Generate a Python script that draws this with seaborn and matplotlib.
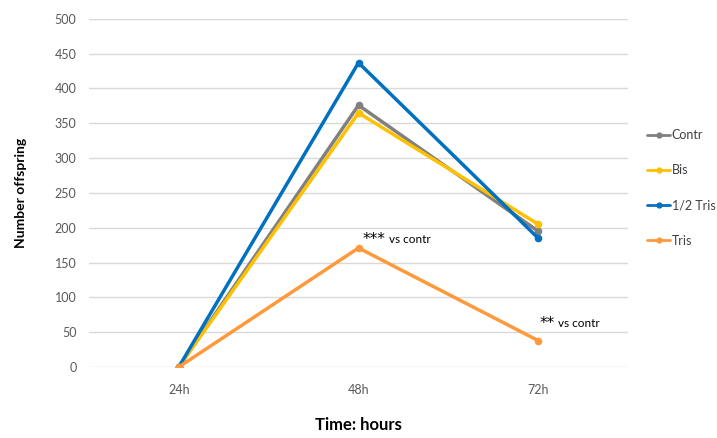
import matplotlib
matplotlib.use("Agg")
import matplotlib.pyplot as plt
import seaborn as sns
import pandas as pd

times = ["24h", "48h", "72h"]
contr = [0, 376, 195]
bis = [0, 365, 205]
half_tris = [0, 437, 185]
tris = [0, 171, 38]
series_names = ["Contr", "Bis", "1/2 Tris", "Tris"]
colors = ["#808080", "#FFC000", "#0070C0", "#FF9A3C"]

rows = []
for name, vals in zip(series_names, [contr, bis, half_tris, tris]):
    for t, v in zip(times, vals):
        rows.append({"time": t, "value": v, "series": name})
df = pd.DataFrame(rows)

sns.set_theme(style="white")
plt.rcParams["font.family"] = ["Lato", "DejaVu Sans"]

fig = plt.figure(figsize=(7.17, 4.38), dpi=100)
ax = fig.add_axes([0.124, 0.162, 0.752, 0.795])

sns.lineplot(data=df, x="time", y="value", hue="series", hue_order=series_names,
             palette=colors, marker="o", markersize=5.5, markeredgewidth=0,
             linewidth=2.5, ax=ax, sort=False)

ax.set_xlim(-0.5, 2.5)
ax.set_ylim(0, 500)
ax.set_yticks(range(0, 501, 50))
ax.yaxis.grid(True, color="#d9d9d9", linewidth=1)
ax.set_axisbelow(True)
for s in ax.spines.values():
    s.set_visible(False)
ax.tick_params(axis="both", length=0, labelsize=9, colors="#595959", pad=9)
ax.tick_params(axis="x", pad=12)
ax.set_ylabel("Number offspring", fontsize=10, fontweight="bold", color="black", labelpad=20)
ax.set_xlabel("Time: hours", fontsize=12, fontweight="bold", color="black", labelpad=15)

handles, labels = ax.get_legend_handles_labels()
for h in handles:
    h.set_markersize(4.5)
    h.set_linewidth(2)
ax.legend(handles, labels, loc="upper left", bbox_to_anchor=(1.015, 0.715),
          frameon=False, fontsize=9, handlelength=1.8, handletextpad=0.15,
          labelspacing=1.85, labelcolor="#404040")

ax.annotate("***", xy=(1, tris[1]), xytext=(3, 1), textcoords="offset points",
            fontsize=11, va="bottom", ha="left", color="black", family="DejaVu Sans")
ax.annotate("vs contr", xy=(1, tris[1]), xytext=(22, 2), textcoords="offset points",
            fontsize=8.5, va="bottom", ha="left", color="black")
ax.annotate("**", xy=(2, tris[2]), xytext=(1, 7), textcoords="offset points",
            fontsize=11, va="bottom", ha="left", color="black", family="DejaVu Sans")
ax.annotate("vs contr", xy=(2, tris[2]), xytext=(14, 8), textcoords="offset points",
            fontsize=8.5, va="bottom", ha="left", color="black")

fig.savefig("out.png", dpi=100)
